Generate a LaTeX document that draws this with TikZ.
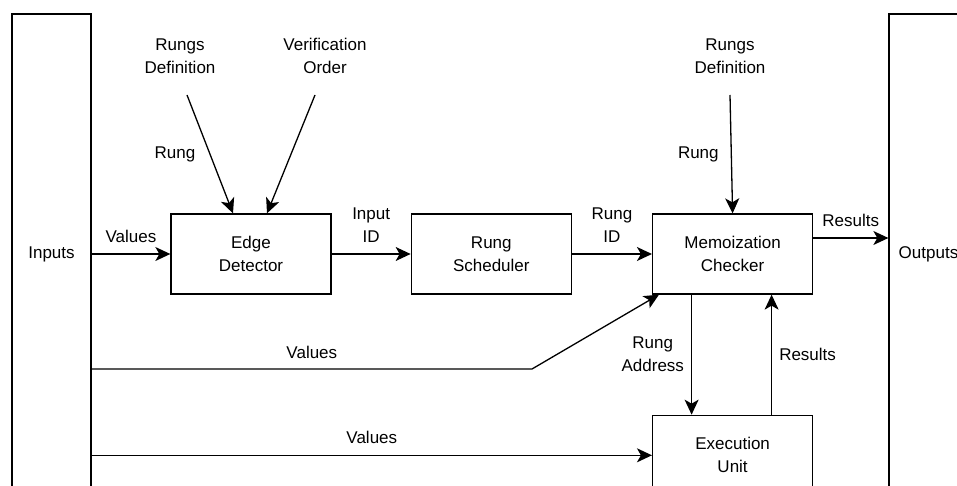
\documentclass[tikz,border=0pt]{standalone}
\usepackage{fontspec}
\setmainfont{Liberation Sans}
\usetikzlibrary{positioning}
\usetikzlibrary{arrows.meta}

\begin{document}
\begin{tikzpicture}[x=1pt,y=-1pt,
    block/.style={draw,line width=1.3pt,minimum width=160pt,minimum height=80pt,
                  align=center,font=\fontsize{17}{23}\selectfont},
    port/.style={block,minimum width=79pt,minimum height=480pt},
    lbl/.style={align=center,inner sep=1pt,font=\fontsize{17}{23}\selectfont},
    flow/.style={line width=1.3pt,-{Stealth[length=15pt,width=14pt,inset=4pt]}}]

    \useasboundingbox (0,0) rectangle (957,486);
    \clip (0,0) rectangle (957,486);

    %side boxes, cut by the page
    \node[port] (inputs) at (51.5,254) {Inputs};
    \node[port] (outputs) at (928.5,254) {Outputs};

    %pipeline
    \node[block] (edge) at (251,254) {Edge\\Detector};
    \node[block,right=79pt of edge] (sched) {Rung\\Scheduler};
    \node[block,right=80pt of sched] (memo) {Memoization\\Checker};
    \node[block,below=120pt of memo] (exec) {Execution\\Unit};

    %sources on top
    \node[lbl] (rdefA) at (180,56) {Rungs\\Definition};
    \node[lbl] (verif) at (325,56) {Verification\\Order};
    \node[lbl] (rdefB) at (730,56) {Rungs\\Definition};

    \draw[flow] ([xshift=7pt,yshift=-39pt]rdefA.center) -- ([xshift=-18pt]edge.north)
        node[lbl,midway,left=13pt] {Rung};
    \draw[flow] ([xshift=-10pt,yshift=-39pt]verif.center) -- ([xshift=16pt]edge.north);
    \draw[flow] ([yshift=-39pt]rdefB.center) -- (memo.north)
        node[lbl,midway,left=11pt] {Rung};

    %main flow
    \draw[flow] (inputs.east |- edge.west) -- (edge.west)
        node[lbl,midway,above=10pt] {Values};
    \draw[flow] (edge) -- (sched) node[lbl,midway,above=10pt] {Input\\ID};
    \draw[flow] (sched) -- (memo) node[lbl,midway,above=10pt] {Rung\\ID};
    \coordinate (res) at ([yshift=16pt]memo.east);
    \draw[flow] (res) -- (res -| outputs.west) node[lbl,midway,above=10pt] {Results};

    %values fed further down
    \coordinate (bend) at (532,369);
    \draw[flow] (bend -| inputs.east) -- (bend) node[lbl,midway,above=9pt] {Values}
        -- ([xshift=7pt]memo.south west);
    \draw[flow] (inputs.east |- exec.west) -- (exec.west)
        node[lbl,midway,above=10pt] {Values};

    %memo <-> execution
    \draw[flow] ([xshift=-41pt]memo.south) -- ([xshift=-41pt]exec.north)
        node[lbl,midway,left=6pt] {Rung\\Address};
    \draw[flow] ([xshift=39pt]exec.north) -- ([xshift=39pt]memo.south)
        node[lbl,midway,right=6pt] {Results};

\end{tikzpicture}
\end{document}
